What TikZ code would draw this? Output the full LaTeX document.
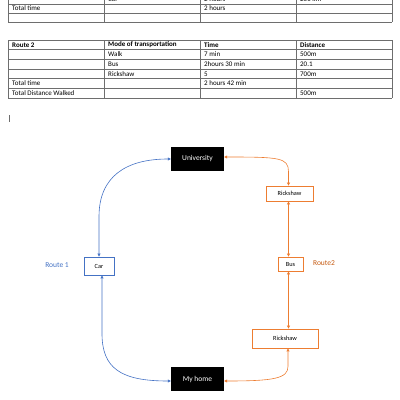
\documentclass[tikz,border=0pt]{standalone}
\usepackage{fontspec}
\setmainfont{Carlito}
\usetikzlibrary{arrows.meta}

\definecolor{officeblue}{HTML}{4472C4}
\definecolor{officeorange}{HTML}{ED7D31}
\definecolor{routeorange}{HTML}{C55A11}
\definecolor{gridgray}{HTML}{6E6E6E}

\begin{document}
\begin{tikzpicture}[x=1pt, y=-1pt,
  grid/.style={draw=gridgray, line width=0.55pt},
  cell/.style={anchor=west, inner sep=0pt, font=\fontsize{7}{8}\selectfont},
  head/.style={cell, font=\fontsize{7}{8}\selectfont\bfseries},
  place/.style={fill=black, text=white, inner sep=0pt,
    minimum width=53pt, minimum height=24pt, font=\fontsize{7.5}{8}\selectfont},
  obox/.style={draw=officeorange, fill=white, line width=0.8pt, inner sep=0pt,
    font=\fontsize{6.3}{7}\selectfont},
  bbox/.style={draw=officeblue, fill=white, line width=0.8pt, inner sep=0pt,
    font=\fontsize{6.3}{7}\selectfont},
  bline/.style={draw=officeblue, line width=0.6pt,
    {Triangle[length=3pt,width=3pt]}-{Triangle[length=3pt,width=3pt]}},
  oline/.style={draw=officeorange, line width=0.6pt,
    {Triangle[length=3pt,width=3pt]}-{Triangle[length=3pt,width=3pt]}}]

  \useasboundingbox (0,0) rectangle (400,400);
  \clip (0,0) rectangle (400,400);

  \newcommand\CA{8};
  \newcommand\CB{104};
  \newcommand\CC{200};
  \newcommand\CD{296};
  \newcommand\CE{392};
  \newcommand\PAD{4};

  % route 1 table, only its last rows are on the page
  \draw[grid] (\CA, 4) -- (\CE, 4);
  \draw[grid] (\CA, 13) -- (\CE, 13);
  \draw[grid] (\CA, 22) -- (\CE, 22);
  \draw[grid] (\CA, -6) -- (\CA, 22);
  \draw[grid] (\CB, -6) -- (\CB, 22);
  \draw[grid] (\CC, -6) -- (\CC, 22);
  \draw[grid] (\CD, -6) -- (\CD, 22);
  \draw[grid] (\CE, -6) -- (\CE, 22);

  \node[cell] (ra-car) at (\CB + \PAD, -1) {Car};
  \node[cell] (ra-cartime) at (\CC + \PAD, -1) {2 hours};
  \node[cell] (ra-cardist) at (\CD + \PAD, -1) {200 km};
  \node[cell] (ra-total) at (\CA + \PAD, 8.5) {Total time};
  \node[cell] (ra-totaltime) at (\CC + \PAD, 8.5) {2 hours};

  % route 2 table
  \draw[grid] (\CA, 40) -- (\CE, 40);
  \draw[grid] (\CA, 49.7) -- (\CE, 49.7);
  \draw[grid] (\CA, 59.3) -- (\CE, 59.3);
  \draw[grid] (\CA, 69) -- (\CE, 69);
  \draw[grid] (\CA, 78.7) -- (\CE, 78.7);
  \draw[grid] (\CA, 88.3) -- (\CE, 88.3);
  \draw[grid] (\CA, 98) -- (\CE, 98);
  \draw[grid] (\CA, 40) -- (\CA, 98);
  \draw[grid] (\CB, 40) -- (\CB, 98);
  \draw[grid] (\CC, 40) -- (\CC, 98);
  \draw[grid] (\CD, 40) -- (\CD, 98);
  \draw[grid] (\CE, 40) -- (\CE, 98);

  \node[head] (rb-name) at (\CA + \PAD, 44.8) {Route 2};
  \node[head] (rb-mode) at (\CB + \PAD, 44.8) {Mode of transportation};
  \node[head] (rb-time) at (\CC + \PAD, 44.8) {Time};
  \node[head] (rb-dist) at (\CD + \PAD, 44.8) {Distance};
  \node[cell] (rb-walk) at (\CB + \PAD, 54.5) {Walk};
  \node[cell] (rb-walktime) at (\CC + \PAD, 54.5) {7 min};
  \node[cell] (rb-walkdist) at (\CD + \PAD, 54.5) {500m};
  \node[cell] (rb-bus) at (\CB + \PAD, 64.2) {Bus};
  \node[cell] (rb-bustime) at (\CC + \PAD, 64.2) {2hours 30 min};
  \node[cell] (rb-busdist) at (\CD + \PAD, 64.2) {20.1};
  \node[cell] (rb-rick) at (\CB + \PAD, 73.8) {Rickshaw};
  \node[cell] (rb-ricktime) at (\CC + \PAD, 73.8) {5};
  \node[cell] (rb-rickdist) at (\CD + \PAD, 73.8) {700m};
  \node[cell] (rb-total) at (\CA + \PAD, 83.5) {Total time};
  \node[cell] (rb-totaltime) at (\CC + \PAD, 83.5) {2 hours 42 min};
  \node[cell] (rb-walked) at (\CA + \PAD, 93.2) {Total Distance Walked};
  \node[cell] (rb-walkeddist) at (\CD + \PAD, 93.2) {500m};

  % text cursor
  \draw[gridgray, line width=0.5pt] (9, 115) -- (9, 122);

  % the two routes
  \node[place] (univ) at (197.5, 159) {University};
  \node[place] (home) at (197.5, 379) {My home};

  \node[bbox, minimum width=30pt, minimum height=18pt] (car) at (99, 266) {Car};
  \node[text=officeblue, font=\fontsize{7.5}{8}\selectfont] (route1) at (57, 265) {Route 1};

  \node[obox, minimum width=47pt, minimum height=15pt] (rickA) at (289.5, 193.5) {Rickshaw};
  \node[obox, minimum width=25pt, minimum height=14pt] (bus) at (290.5, 264) {Bus};
  \node[obox, minimum width=66pt, minimum height=19pt] (rickB) at (285, 338.5) {Rickshaw};
  \node[text=routeorange, font=\fontsize{7.5}{8}\selectfont] (route2) at (324, 263) {Route2};

  \draw[bline] (car.north) -- ++(0, -40)
  .. controls +(0, -40) and +(-45, 0) .. (univ.west);
  \draw[bline] ([xshift=3pt]car.south) -- ++(0, 58)
  .. controls +(0, 35) and +(-50, 0) .. ([yshift=-2pt]home.west);

  \draw[oline] ([xshift=-1pt]rickA.north) -- ++(0, -14)
  .. controls +(0, -14) and +(55, 0) .. ([yshift=2pt]univ.east);
  \draw[oline] ([xshift=-1pt]rickA.south) -- ([xshift=-1pt]rickA.south |- bus.north);
  \draw[oline] ([xshift=-2pt]bus.south) -- ([xshift=-2pt]bus.south |- rickB.north);
  \draw[oline] ([xshift=3pt]rickB.south) -- ++(0, 18)
  .. controls +(0, 12) and +(50, 0) .. ([yshift=-2pt]home.east);

\end{tikzpicture}
\end{document}
